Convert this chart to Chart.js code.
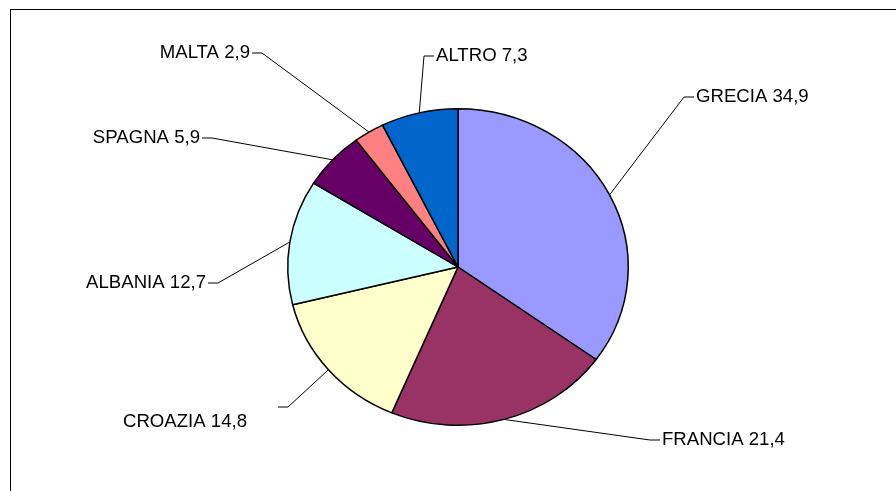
<!DOCTYPE html>
<html>
<head>
<meta charset="utf-8">
<script src="https://cdn.jsdelivr.net/npm/chart.js@4.4.0/dist/chart.umd.min.js"></script>
<style>
  html, body { margin: 0; padding: 0; background: #fff; }
  #wrap { position: relative; width: 896px; height: 491px; overflow: hidden; }
  #frame { position: absolute; left: 10px; top: 9px; width: 900px; height: 500px;
           border-top: 1.5px solid #000; border-left: 1.5px solid #000; }
  canvas { position: absolute; left: 0; top: 0; }
</style>
</head>
<body>
<div id="wrap">
  <div id="frame"></div>
  <canvas id="pieChart" width="896" height="491"></canvas>
</div>
<script>
const countries = ['GRECIA', 'FRANCIA', 'CROAZIA', 'ALBANIA', 'SPAGNA', 'MALTA', 'ALTRO'];
const shares = [34.9, 21.4, 14.8, 12.7, 5.9, 2.9, 7.3];
const sliceColors = ['#9999ff', '#993366', '#ffffcc', '#ccffff', '#660066', '#ff8080', '#0066cc'];

// leader line elbow, offset from the pie centre
const elbows = [[226, -170], [192, 173], [-170, 140], [-240, 16], [-246, -129], [-196, -214], [-34, -211]];
// extra shift of the text (croazia sits below its line)
const textShift = [[0, 0], [0, 0], [-29, 15], [0, 0], [0, 0], [0, 0], [0, 0]];

// the original pie is a bit wider than tall
const stretchX = 171 / 159;

const labelPlugin = {
    id: 'pieLabels',
    beforeDatasetsDraw(chart) {
        const arc = chart.getDatasetMeta(0).data[0];
        const ctx = chart.ctx;
        ctx.save();
        ctx.translate(arc.x, arc.y);
        ctx.scale(stretchX, 1);
        ctx.translate(-arc.x, -arc.y);
    },
    afterDatasetsDraw(chart) {
        const ctx = chart.ctx;
        ctx.restore();
        ctx.save();
        ctx.font = '18.6px "Liberation Sans", Arial, sans-serif';
        ctx.fillStyle = '#000';
        ctx.strokeStyle = '#000';
        ctx.lineWidth = 1;
        ctx.textBaseline = 'middle';
        chart.getDatasetMeta(0).data.forEach(function(arc, i) {
            const mid = (arc.startAngle + arc.endAngle) / 2;
            const ex = arc.x + Math.cos(mid) * arc.outerRadius * stretchX;
            const ey = arc.y + Math.sin(mid) * arc.outerRadius;
            const bx = arc.x + elbows[i][0];
            const by = arc.y + elbows[i][1];
            const dir = elbows[i][0] >= ex - arc.x ? 1 : -1;
            const hx = bx + dir * 10;
            ctx.beginPath();
            ctx.moveTo(ex, ey);
            ctx.lineTo(bx, by);
            ctx.lineTo(hx, by);
            ctx.stroke();
            const text = countries[i] + ' ' + shares[i].toFixed(1).replace('.', ',');
            ctx.textAlign = dir > 0 ? 'left' : 'right';
            ctx.fillText(text, hx + dir * 2 + textShift[i][0], by + textShift[i][1]);
        });
        ctx.restore();
    }
};

new Chart(document.getElementById('pieChart').getContext('2d'), {
    type: 'pie',
    data: {
        labels: countries,
        datasets: [{
            data: shares,
            backgroundColor: sliceColors,
            borderColor: '#000',
            borderWidth: 1.4
        }]
    },
    options: {
        responsive: false,
        animation: false,
        devicePixelRatio: 1,
        layout: {
            padding: { top: 108, bottom: 65, left: 299, right: 279 }
        },
        plugins: {
            legend: { display: false },
            tooltip: { enabled: false }
        }
    },
    plugins: [labelPlugin]
});
</script>
</body>
</html>
